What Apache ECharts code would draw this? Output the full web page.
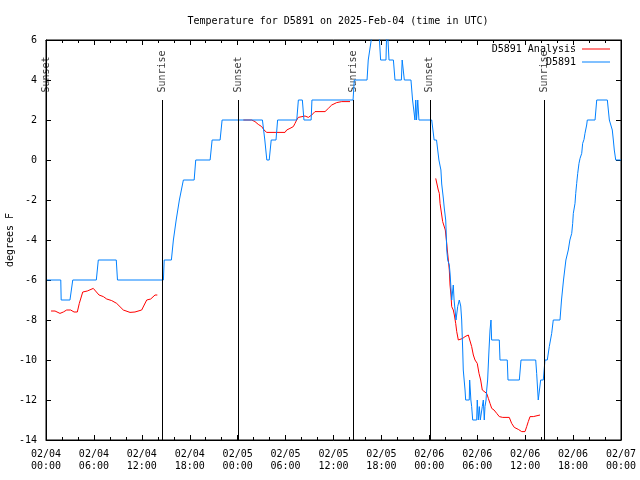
<!DOCTYPE html>
<html>
<head>
<meta charset="utf-8">
<script src="https://cdn.jsdelivr.net/npm/echarts@6/dist/echarts.min.js"></script>
<style>html,body{margin:0;padding:0;background:#fff}#c{width:640px;height:480px}</style>
</head>
<body>
<div id="c"></div>
<script>
// Hours since 2025-02-04 00:00 UTC
const xTickLabels = ['02/04\n00:00','02/04\n06:00','02/04\n12:00','02/04\n18:00','02/05\n00:00','02/05\n06:00','02/05\n12:00','02/05\n18:00','02/06\n00:00','02/06\n06:00','02/06\n12:00','02/06\n18:00','02/07\n00:00'];

const blueHours = [0,1.85,1.9,3.0,3.35,6.3,6.55,8.8,8.95,14.7,14.8,15.7,15.95,16.3,16.7,17.2,18.55,18.75,20.55,20.8,21.8,22.05,27.1,27.4,27.65,27.95,28.2,28.8,29.0,31.4,31.6,32.1,32.3,33.2,33.3,38.45,38.6,40.2,40.35,40.55,41.1,41.6,41.9,42.57,42.7,42.95,43.5,43.7,44.5,44.6,44.75,44.87,45.7,45.9,46.1,46.2,46.3,46.4,46.55,46.7,48.3,48.6,48.9,49.2,49.45,49.55,49.75,49.87,50.05,50.1,50.18,50.3,50.5,50.6,50.8,51.0,51.1,51.34,51.55,51.75,51.93,52.05,52.18,52.25,52.47,52.55,53.0,53.05,53.13,53.2,53.3,53.43,53.93,54.0,54.13,54.26,54.38,54.53,54.63,54.76,54.88,54.97,55.1,55.18,55.3,55.47,55.6,55.72,55.8,56.76,56.85,57.76,57.85,59.27,59.48,61.32,61.44,61.64,61.86,61.94,62.27,62.48,62.77,63.02,63.32,63.52,64.36,64.55,64.8,65.1,65.4,65.6,65.83,65.95,66.03,66.24,66.33,66.45,66.58,66.74,66.87,67.08,67.2,67.37,67.49,67.7,67.78,68.75,68.96,70.29,70.54,70.71,70.91,71.04,71.16,71.34,72];
const blueTemps = [-6,-6,-7,-7,-6,-6,-5,-5,-6,-6,-5,-5,-4,-3,-2,-1,-1,0,0,1,1,2,2,1,0,0,1,1,2,2,3,3,2,2,3,3,4,4,5,5,7,7,5,5,7,5,5,4,4,5,5,4,4,3,3,2,3,2,3,2,2,1,1,0,-0.5,-1.2,-1.9,-2.4,-3,-3.5,-4.5,-5,-5.25,-5.7,-7,-6.25,-7,-8,-7.33,-7,-7.3,-8,-9.5,-10.5,-11.5,-12,-12,-11,-11.5,-12,-12.33,-13,-13,-12,-13,-12.33,-13,-13,-12.33,-12,-13,-12.33,-12,-11.5,-11,-9.5,-8.5,-8,-9,-9,-10,-10,-11,-11,-10,-10,-10.67,-12,-12,-11,-11,-10,-10,-9.33,-8.67,-8,-8,-7,-6,-5,-4.5,-4,-3.67,-3.17,-2.67,-2.17,-1.67,-1.17,-0.67,-0.17,0.08,0.33,0.83,1.03,1.33,1.75,2,2,3,3,2,2,1.5,1,0.5,0,0];

// null marks a gap in the analysis series
const redHours = [0.63,1.13,1.75,2.17,2.59,3.09,3.51,3.92,4.17,4.6,5.17,5.92,6.64,7.18,7.6,8.23,8.85,9.68,10.52,11.14,11.98,12.61,13.11,13.65,13.94,19,
 24.71,25.76,26.17,26.58,27.01,27.3,27.64,28.68,29.93,30.14,30.55,30.97,31.18,31.39,31.59,31.81,32.43,32.85,33.27,33.68,34.94,35.35,35.78,36.4,37.03,38.07,43,
 48.8,49.0,49.12,49.25,49.34,49.46,49.55,49.67,49.87,50.0,50.18,50.25,50.38,50.5,50.59,50.71,50.8,51.0,51.13,51.3,51.43,51.63,51.84,52.18,52.47,52.88,53.09,53.3,53.51,53.72,54.0,54.22,54.43,54.63,54.85,55.18,55.39,55.6,55.81,56.1,56.44,56.76,57.19,58.01,58.31,58.64,59.14,59.57,59.98,60.19,60.39,60.61,61.02,61.23,61.86];
const redTemps = [-7.55,-7.55,-7.67,-7.6,-7.5,-7.5,-7.6,-7.6,-7.17,-6.6,-6.55,-6.42,-6.75,-6.83,-6.95,-7.03,-7.17,-7.5,-7.62,-7.6,-7.5,-7.0,-6.95,-6.75,-6.75,null,
 2.0,2.0,1.92,1.78,1.67,1.5,1.38,1.38,1.38,1.5,1.58,1.67,1.83,2.0,2.13,2.2,2.2,2.13,2.25,2.42,2.42,2.58,2.75,2.87,2.92,2.92,null,
 -0.92,-0.92,-1.5,-1.67,-2.17,-2.5,-2.75,-3.08,-3.1,-3.5,-4.17,-4.5,-5,-5.5,-6.25,-6.75,-7.33,-7.5,-7.75,-8.17,-8.58,-9,-9,-8.92,-8.83,-8.75,-8.83,-9.33,-9.75,-10,-10.17,-10.67,-11,-11.5,-11.58,-11.67,-11.92,-12.17,-12.42,-12.5,-12.67,-12.83,-12.87,-12.87,-13.17,-13.37,-13.47,-13.58,-13.58,-13.33,-13.08,-12.83,-12.83,-12.8,-12.75];

const sunHours = [0.02,14.52,24.04,38.46,48.06,62.36];
const sunNames = ['Sunset','Sunrise','Sunset','Sunrise','Sunset','Sunrise'];
const sunLineTop = 3;

const FONT = 'DejaVu Sans Mono';
const chart = echarts.init(document.getElementById('c'), null, {renderer: 'canvas'});
const zip = (a, b) => a.map((v, i) => [v, b[i] === null ? '-' : b[i]]);

const axisCommonX = {
  type: 'value', min: 0, max: 72, interval: 6,
  axisLine: {show: true, onZero: false, lineStyle: {color: '#000', width: 1}},
  axisTick: {show: true, inside: true, length: 5, lineStyle: {color: '#000'}},
  minorTick: {show: true, splitNumber: 3, length: 3, lineStyle: {color: '#000'}},
  splitLine: {show: false}, minorSplitLine: {show: false}
};
const axisCommonY = {
  type: 'value', min: -14, max: 6, interval: 2,
  axisLine: {show: true, onZero: false, lineStyle: {color: '#000', width: 1}},
  axisTick: {show: true, inside: true, length: 5, lineStyle: {color: '#000'}},
  splitLine: {show: false}
};

chart.setOption({
  animation: false,
  backgroundColor: '#fff',
  title: {
    text: 'Temperature for D5891 on 2025-Feb-04 (time in UTC)',
    left: 333, top: 11, textAlign: 'center',
    textStyle: {fontFamily: FONT, fontSize: 10, fontWeight: 'normal', color: '#000'}
  },
  grid: {left: 46, right: 19, top: 40, bottom: 40, containLabel: false, outerBoundsMode: 'none',
    show: true, borderColor: '#000', borderWidth: 1, backgroundColor: 'transparent'},
  legend: [
    {data: ['D5891 Analysis'], orient: 'vertical', right: 30, top: 43, padding: 0, align: 'right',
     icon: 'rect', itemWidth: 28, itemHeight: 1, itemGap: 2,
     textStyle: {fontFamily: FONT, fontSize: 10, color: '#000', lineHeight: 12, padding: [0, 1, 0, 0]}},
    {data: ['D5891'], orient: 'vertical', right: 30, top: 56, padding: 0, align: 'right',
     icon: 'rect', itemWidth: 28, itemHeight: 1, itemGap: 2,
     textStyle: {fontFamily: FONT, fontSize: 10, color: '#000', lineHeight: 12, padding: [0, 1, 0, 0]}}
  ],
  xAxis: [
    Object.assign({}, axisCommonX, {position: 'bottom',
      axisLabel: {show: true, margin: 8, color: '#000', fontFamily: FONT, fontSize: 10, lineHeight: 12,
        showMinLabel: true, showMaxLabel: true, hideOverlap: false,
        formatter: v => xTickLabels[Math.round(v / 6)]}}),
    Object.assign({}, axisCommonX, {position: 'top', axisLabel: {show: false}})
  ],
  yAxis: [
    Object.assign({}, axisCommonY, {position: 'left',
      name: 'degrees F', nameLocation: 'middle', nameGap: 31, nameRotate: 90, nameMoveOverlap: false,
      nameTextStyle: {fontFamily: FONT, fontSize: 10, color: '#000'},
      axisLabel: {show: true, margin: 9, color: '#000', fontFamily: FONT, fontSize: 10}}),
    Object.assign({}, axisCommonY, {position: 'right', axisLabel: {show: false}})
  ],
  series: [
    {
      name: 'sun', type: 'scatter', xAxisIndex: 0, yAxisIndex: 0,
      symbol: 'circle', symbolSize: 1, silent: true, z: 1, clip: false,
      data: sunHours.map(h => [h, sunLineTop]),
      itemStyle: {color: 'rgba(0,0,0,0)'},
      labelLayout: {hideOverlap: false},
      label: {show: true, position: 'top', distance: 7, rotate: 90, align: 'left', verticalAlign: 'middle',
        fontFamily: FONT, fontSize: 10, color: '#000',
        formatter: p => sunNames[p.dataIndex]},
      markLine: {
        silent: true, symbol: ['none', 'none'], animation: false,
        lineStyle: {color: '#000', width: 1, type: 'solid'},
        label: {show: false},
        data: sunHours.map(h => [{coord: [h, sunLineTop]}, {coord: [h, -14]}])
      }
    },
    {
      name: 'D5891 Analysis', type: 'line', xAxisIndex: 0, yAxisIndex: 0,
      data: zip(redHours, redTemps), showSymbol: false, connectNulls: false,
      lineStyle: {color: '#ff0000', width: 1}, itemStyle: {color: '#ff0000'}, z: 2
    },
    {
      name: 'D5891', type: 'line', xAxisIndex: 0, yAxisIndex: 0,
      data: zip(blueHours, blueTemps), showSymbol: false, clip: true,
      lineStyle: {color: '#0080ff', width: 1}, itemStyle: {color: '#0080ff'}, z: 3
    }
  ]
});
</script>
</body>
</html>
